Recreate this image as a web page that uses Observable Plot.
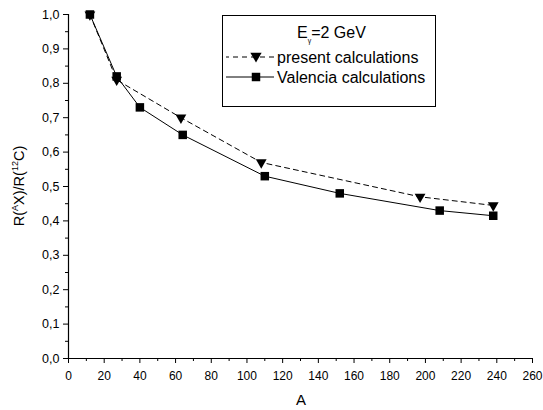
<!DOCTYPE html>
<html>
<head>
<meta charset="utf-8">
<script src="https://cdn.jsdelivr.net/npm/d3@7"></script>
<script src="https://cdn.jsdelivr.net/npm/@observablehq/plot@0.6"></script>
<style>
  html, body { margin: 0; padding: 0; background: #fff; }
  #chart { position: relative; width: 543px; height: 410px; }
  svg { font-family: "Liberation Sans", Arial, sans-serif; }
</style>
</head>
<body>
<div id="chart"></div>
<script>
// Present calculations (dashed, down triangles)
const presentA = [12, 27, 63, 108, 197, 238];
const presentR = [1.0, 0.81, 0.70, 0.57, 0.47, 0.445];
// Valencia calculations (solid, squares)
const valenciaA = [12, 27, 40, 64, 110, 152, 208, 238];
const valenciaR = [1.0, 0.82, 0.73, 0.65, 0.53, 0.48, 0.43, 0.415];
// Tick values
const xMajor = d3.range(0, 261, 20);
const xMinor = d3.range(10, 261, 20);
const yMajor = d3.range(0, 1.0001, 0.1).map(v => +v.toFixed(1));
const yMinor = d3.range(0.05, 1, 0.1).map(v => +v.toFixed(2));

const present = presentA.map((a, i) => ({A: a, R: presentR[i]}));
const valencia = valenciaA.map((a, i) => ({A: a, R: valenciaR[i]}));
const fmt = d => d.toFixed(1).replace(".", ",");

const plot = Plot.plot({
  width: 543,
  height: 410,
  marginLeft: 68,
  marginRight: 11,
  marginTop: 14,
  marginBottom: 52,
  style: {fontFamily: '"Liberation Sans", Arial, sans-serif', fontSize: "12.5px", color: "#000", background: "#fff"},
  x: {domain: [0, 260]},
  y: {domain: [0, 1]},
  marks: [
    Plot.axisX({ticks: xMajor, tickSize: 5, tickPadding: 8, tickFormat: d => d, label: null, fontSize: 12}),
    Plot.axisX({ticks: xMinor, tickSize: 3, tickFormat: () => "", label: null}),
    Plot.axisY({ticks: yMajor, tickSize: 5, tickPadding: 4, tickFormat: fmt, label: null, fontSize: 12.5}),
    Plot.axisY({ticks: yMinor, tickSize: 3, tickFormat: () => "", label: null}),
    Plot.ruleX([0], {stroke: "#000", strokeWidth: 1.2}),
    Plot.ruleY([0], {stroke: "#000", strokeWidth: 1.2}),
    Plot.line(present, {x: "A", y: "R", stroke: "#000", strokeWidth: 1, strokeDasharray: "5,4"}),
    Plot.line(valencia, {x: "A", y: "R", stroke: "#000", strokeWidth: 1}),
    Plot.dot(present, {x: "A", y: "R", symbol: "triangle", r: 4, rotate: 180, fill: "#000", stroke: "none"}),
    Plot.dot(valencia, {x: "A", y: "R", symbol: "square", r: 4.8, fill: "#000", stroke: "none"})
  ]
});
document.getElementById("chart").appendChild(plot);

const svg = d3.select(plot);
// Axis titles
svg.append("text").attr("x", 301).attr("y", 405).attr("text-anchor", "middle")
  .attr("font-size", 15).attr("fill", "#000").text("A");
const yl = svg.append("text").attr("transform", "translate(24,186) rotate(-90)")
  .attr("text-anchor", "middle").attr("font-size", 14.5).attr("fill", "#000");
yl.append("tspan").text("R(");
yl.append("tspan").attr("font-size", 9).attr("dy", -6).text("A");
yl.append("tspan").attr("dy", 6).text("X)/R(");
yl.append("tspan").attr("font-size", 9).attr("dy", -6).text("12");
yl.append("tspan").attr("dy", 6).text("C)");

// Legend
const lg = svg.append("g").attr("text-anchor", "start");
lg.append("rect").attr("x", 222.5).attr("y", 15.5).attr("width", 213).attr("height", 91)
  .attr("fill", "#fff").attr("stroke", "#000").attr("stroke-width", 1);
const t = lg.append("text").attr("x", 297).attr("y", 38).attr("font-size", 16).attr("fill", "#000").attr("text-anchor", "start");
t.append("tspan").text("E");
t.append("tspan").attr("font-size", 7).attr("dy", 5).text("γ");
t.append("tspan").attr("dy", -5).text("=2 GeV");
lg.append("line").attr("x1", 226).attr("x2", 274).attr("y1", 57).attr("y2", 57)
  .attr("stroke", "#000").attr("stroke-dasharray", "5,4").attr("stroke-dashoffset", 2);
lg.append("path").attr("d", d3.symbol(d3.symbolTriangle, 55)()).attr("transform", "translate(256,56) rotate(180)").attr("fill", "#000");
lg.append("text").attr("x", 277).attr("y", 63).attr("font-size", 16).attr("fill", "#000").attr("text-anchor", "start").text("present calculations");
lg.append("line").attr("x1", 226).attr("x2", 274).attr("y1", 77).attr("y2", 77).attr("stroke", "#000");
lg.append("path").attr("d", d3.symbol(d3.symbolSquare, 72)()).attr("transform", "translate(256,77)").attr("fill", "#000");
lg.append("text").attr("x", 277).attr("y", 83).attr("font-size", 16).attr("fill", "#000").attr("text-anchor", "start").text("Valencia calculations");
</script>
</body>
</html>
